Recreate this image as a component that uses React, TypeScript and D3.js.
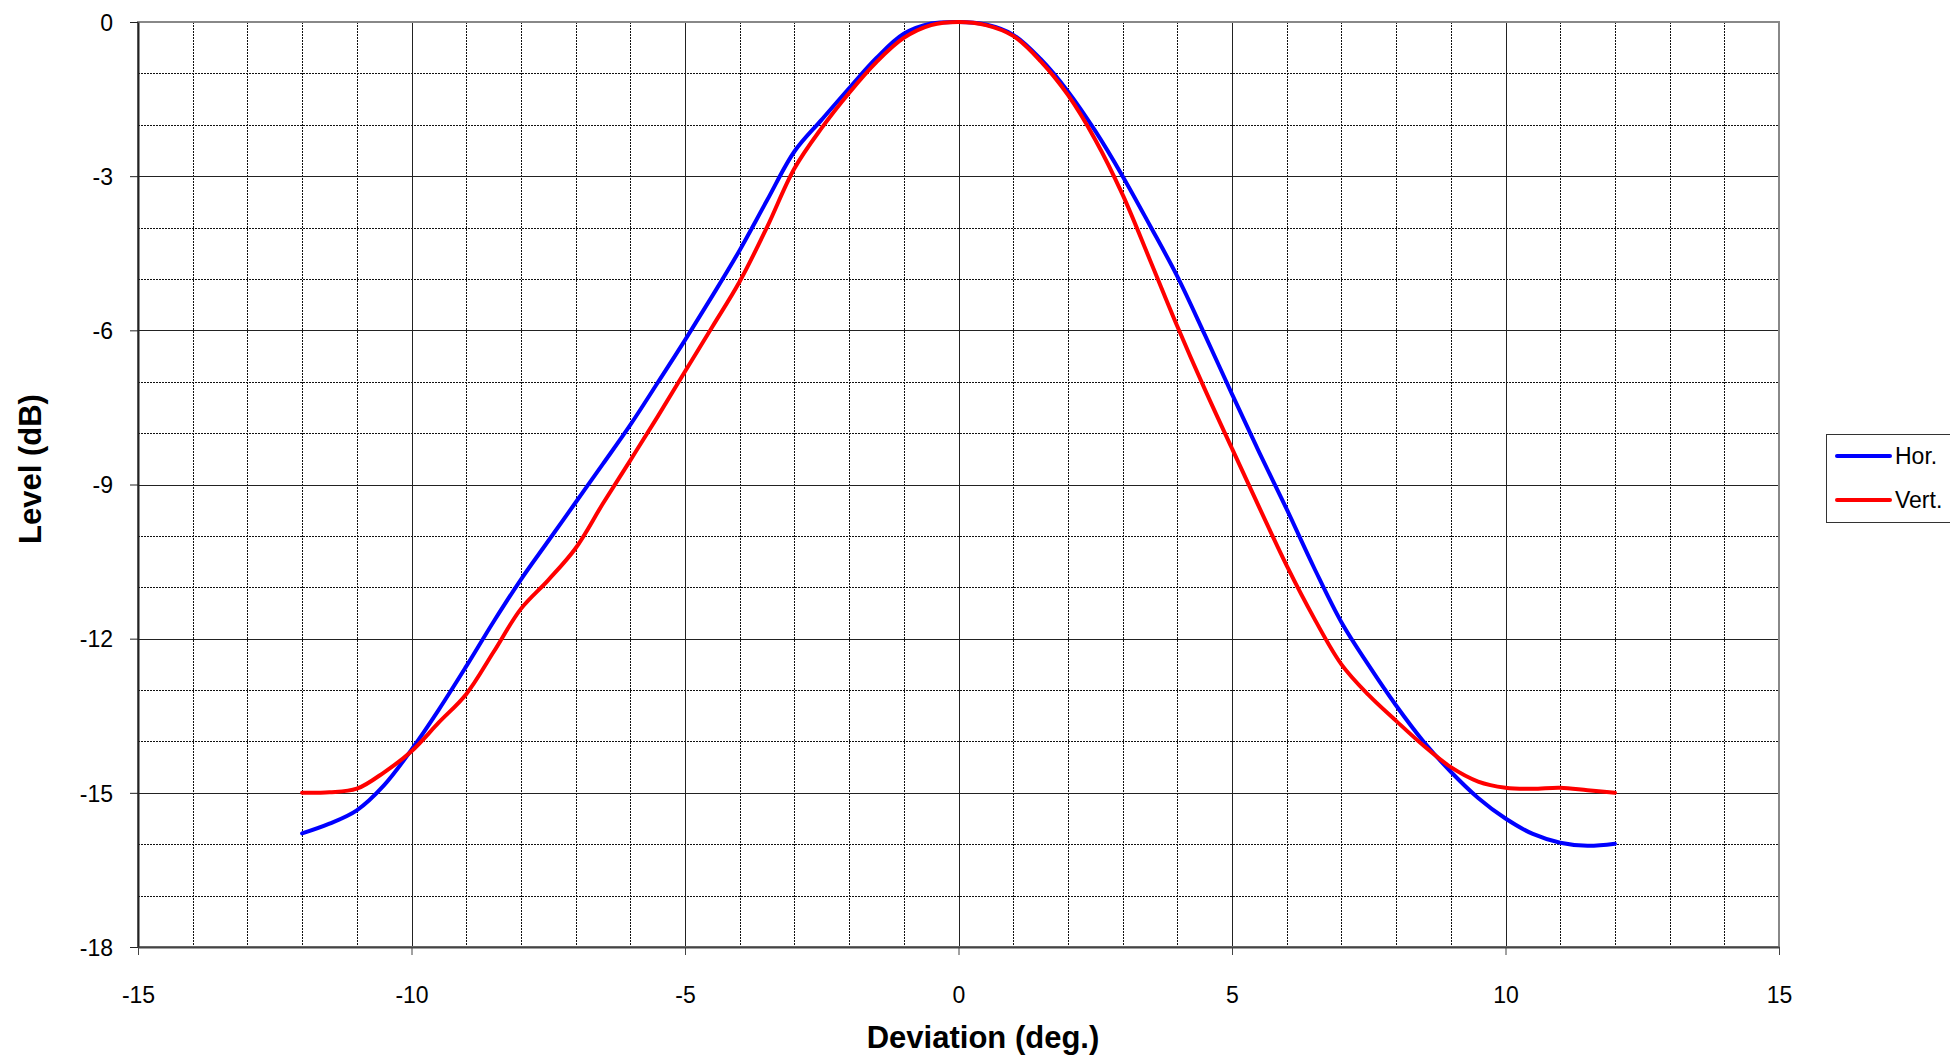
import React, { useEffect, useRef } from "react";
import * as d3 from "d3";

// Beam pattern: level (dB) against deviation (deg.)
const degrees = [
  -12, -11.5, -11, -10.5, -10, -9.5, -9, -8.5, -8, -7.5, -7, -6.5, -6, -5.5, -5,
  -4.5, -4, -3.5, -3, -2.5, -2, -1.5, -1, -0.5, 0, 0.5, 1, 1.5, 2, 2.5, 3, 3.5,
  4, 4.5, 5, 5.5, 6, 6.5, 7, 7.5, 8, 8.5, 9, 9.5, 10, 10.5, 11, 11.5, 12,
];

const horLevels = [
  -15.79, -15.6, -15.34, -14.85, -14.16, -13.38, -12.54, -11.67, -10.85, -10.1,
  -9.35, -8.6, -7.84, -7.02, -6.19, -5.33, -4.44, -3.47, -2.52, -1.9, -1.29,
  -0.7, -0.23, -0.03, 0, -0.05, -0.25, -0.72, -1.35, -2.12, -3.0, -3.96, -4.95,
  -6.08, -7.24, -8.38, -9.48, -10.62, -11.68, -12.52, -13.3, -14.0, -14.59, -15.1,
  -15.5, -15.8, -15.97, -16.03, -15.99,
];

const vertLevels = [
  -15.0, -14.99, -14.92, -14.6, -14.19, -13.63, -13.08, -12.26, -11.42, -10.86,
  -10.24, -9.37, -8.53, -7.68, -6.8, -5.93, -5.05, -3.99, -2.85, -2.06, -1.38,
  -0.78, -0.31, -0.06, 0, -0.06, -0.27, -0.76, -1.42, -2.29, -3.36, -4.63, -5.92,
  -7.14, -8.3, -9.45, -10.58, -11.6, -12.5, -13.1, -13.6, -14.08, -14.5, -14.78,
  -14.9, -14.92, -14.9, -14.95, -15.0,
];

const seriesNames = ["Hor.", "Vert."];
const seriesColors = ["#0000ff", "#ff0000"];

const xTicks = [-15, -10, -5, 0, 5, 10, 15];
const yTicks = [0, -3, -6, -9, -12, -15, -18];

const App: React.FC = () => {
  const svgRef = useRef<SVGSVGElement | null>(null);

  useEffect(() => {
    const width = 1950;
    const height = 1057;
    const plot = { left: 138, right: 1779, top: 22, bottom: 947 };
    const font = "'Liberation Sans', Arial, sans-serif";

    const svg = d3.select(svgRef.current);
    svg.selectAll("*").remove();
    svg.attr("width", width).attr("height", height);

    const xScale = d3.scaleLinear().domain([-15, 15]).range([plot.left, plot.right]);
    const yScale = d3.scaleLinear().domain([-18, 0]).range([plot.bottom, plot.top]);

    svg.append("rect").attr("width", width).attr("height", height).attr("fill", "#fff");

    // grid: minor every 1 (dotted), major on the tick values (solid)
    const grid = svg.append("g").attr("shape-rendering", "crispEdges");
    const minorX = d3.range(-14, 15).filter((v) => !xTicks.includes(v));
    const minorY = d3.range(-17, 0).filter((v) => !yTicks.includes(v));

    grid
      .selectAll("line.minor-x")
      .data(minorX)
      .enter()
      .append("line")
      .attr("x1", (d) => Math.round(xScale(d)) + 0.5)
      .attr("x2", (d) => Math.round(xScale(d)) + 0.5)
      .attr("y1", plot.top)
      .attr("y2", plot.bottom)
      .attr("stroke", "#111")
      .attr("stroke-dasharray", "2,1");

    grid
      .selectAll("line.minor-y")
      .data(minorY)
      .enter()
      .append("line")
      .attr("y1", (d) => Math.round(yScale(d)) + 0.5)
      .attr("y2", (d) => Math.round(yScale(d)) + 0.5)
      .attr("x1", plot.left)
      .attr("x2", plot.right)
      .attr("stroke", "#111")
      .attr("stroke-dasharray", "2,1");

    grid
      .selectAll("line.major-x")
      .data(xTicks.slice(1, -1))
      .enter()
      .append("line")
      .attr("x1", (d) => Math.round(xScale(d)) + 0.5)
      .attr("x2", (d) => Math.round(xScale(d)) + 0.5)
      .attr("y1", plot.top)
      .attr("y2", plot.bottom)
      .attr("stroke", "#222");

    grid
      .selectAll("line.major-y")
      .data(yTicks.slice(1, -1))
      .enter()
      .append("line")
      .attr("y1", (d) => Math.round(yScale(d)) + 0.5)
      .attr("y2", (d) => Math.round(yScale(d)) + 0.5)
      .attr("x1", plot.left)
      .attr("x2", plot.right)
      .attr("stroke", "#222");

    // plot frame (top / right in gray)
    svg
      .append("rect")
      .attr("x", plot.left)
      .attr("y", plot.top)
      .attr("width", plot.right - plot.left)
      .attr("height", plot.bottom - plot.top)
      .attr("fill", "none")
      .attr("stroke", "#888")
      .attr("stroke-width", 2);

    // Y axis (plain hyphen minus, like the original)
    const yAxis = svg
      .append("g")
      .attr("transform", `translate(${plot.left},0)`)
      .call(
        d3
          .axisLeft(yScale)
          .tickValues(yTicks)
          .tickFormat((d) => String(d))
          .tickSize(8)
          .tickSizeOuter(0)
          .tickPadding(17)
      );
    yAxis.select(".domain").attr("stroke", "#222").attr("stroke-width", 2);
    yAxis.selectAll(".tick line").attr("stroke", "#222");
    yAxis
      .selectAll(".tick text")
      .attr("font-family", font)
      .attr("font-size", 23)
      .attr("fill", "#000")
      .attr("dy", "0.36em");

    // X axis
    const xAxis = svg
      .append("g")
      .attr("transform", `translate(0,${plot.bottom})`)
      .call(
        d3
          .axisBottom(xScale)
          .tickValues(xTicks)
          .tickFormat((d) => String(d))
          .tickSize(8)
          .tickSizeOuter(0)
          .tickPadding(32)
      );
    xAxis.select(".domain").attr("stroke", "#444").attr("stroke-width", 2);
    xAxis.selectAll(".tick line").attr("stroke", "#444");
    xAxis
      .selectAll(".tick text")
      .attr("font-family", font)
      .attr("font-size", 23)
      .attr("fill", "#000")
      .attr("dy", "0.71em");

    // series lines
    const series = [horLevels, vertLevels];
    const line = d3
      .line<number>()
      .x((_, i) => xScale(degrees[i]))
      .y((d) => yScale(d))
      .curve(d3.curveCatmullRom.alpha(0.5));

    series.forEach((values, i) => {
      svg
        .append("path")
        .datum(values)
        .attr("d", line)
        .attr("fill", "none")
        .attr("stroke", seriesColors[i])
        .attr("stroke-width", 4)
        .attr("stroke-linejoin", "round")
        .attr("stroke-linecap", "round");
    });

    // axis titles
    svg
      .append("text")
      .attr("x", 983)
      .attr("y", 1048)
      .attr("text-anchor", "middle")
      .attr("font-family", font)
      .attr("font-size", 31)
      .attr("font-weight", "bold")
      .text("Deviation (deg.)");

    svg
      .append("text")
      .attr("transform", "translate(41,469) rotate(-90)")
      .attr("text-anchor", "middle")
      .attr("font-family", font)
      .attr("font-size", 31)
      .attr("font-weight", "bold")
      .text("Level (dB)");

    // legend (runs off the right edge like the original)
    const legend = svg.append("g");
    legend
      .append("rect")
      .attr("x", 1826.5)
      .attr("y", 434.5)
      .attr("width", 160)
      .attr("height", 88)
      .attr("fill", "#fff")
      .attr("stroke", "#333")
      .attr("stroke-width", 1);

    seriesNames.forEach((name, i) => {
      const y = 456 + i * 44;
      legend
        .append("line")
        .attr("x1", 1837)
        .attr("x2", 1890)
        .attr("y1", y)
        .attr("y2", y)
        .attr("stroke", seriesColors[i])
        .attr("stroke-width", 4)
        .attr("stroke-linecap", "round");
      legend
        .append("text")
        .attr("x", 1895)
        .attr("y", y)
        .attr("dy", "0.36em")
        .attr("font-family", font)
        .attr("font-size", 23)
        .text(name);
    });
  }, []);

  return (
    <div style={{ position: "absolute", left: 0, top: 0 }}>
      <svg ref={svgRef} style={{ display: "block" }}></svg>
    </div>
  );
};

export default App;
